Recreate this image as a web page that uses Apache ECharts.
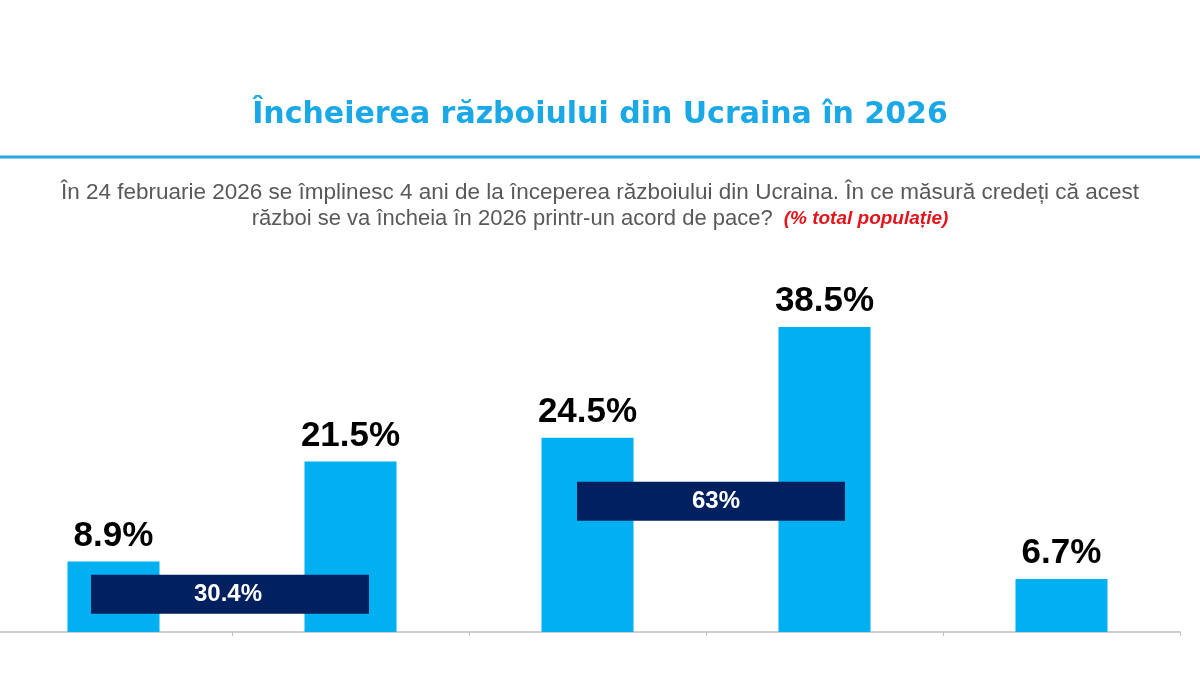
<!DOCTYPE html>
<html>
<head>
<meta charset="utf-8">
<script src="https://cdn.jsdelivr.net/npm/echarts@6/dist/echarts.min.js"></script>
<style>
  html, body { margin: 0; padding: 0; background: #fff; overflow: hidden; }
  /* graficul e impins putin spre stanga, ca in original */
  #main { position: absolute; left: -5px; top: 0; width: 1210px; height: 674px; }
</style>
</head>
<body>
<div id="main"></div>
<script>
// date sondaj - 5 variante de raspuns (etichetele nu apar pe grafic)
const categories = ['A', 'B', 'C', 'D', 'E']
const values = [8.9, 21.5, 24.5, 38.5, 6.7]

// totaluri grupate (1+2 si 3+4), asezate intre bare
const groupLabels = ['30.4%', '63%']
const groupSlots = [1, 3]        // granita dintre categorii
const groupLevels = [4.75, 16.5] // nivelul vertical al casetei

const chart = echarts.init(document.getElementById('main'))

const font = 'Liberation Sans, Arial, sans-serif'
const boxSizes = [[278, 39], [268, 39]]
const boxOffsets = [[-2, 0], [5, 0]]

const option = {
  backgroundColor: '#ffffff',
  animation: false,
  title: [
    {
      text: 'Încheierea războiului din Ucraina în 2026',
      left: 'center',
      top: 95,
      textStyle: { color: '#1aa9e6', fontSize: 30, fontWeight: 'bold', fontFamily: 'DejaVu Sans, sans-serif' }
    },
    {
      text: 'În 24 februarie 2026 se împlinesc 4 ani de la începerea războiului din Ucraina. În ce măsură credeți că acest',
      left: 'center',
      top: 176,
      textStyle: { color: '#595959', fontSize: 22.5, fontWeight: 'normal', fontFamily: font }
    },
    {
      text: '{a|război se va încheia în 2026 printr-un acord de pace?}{b|(% total populație)}',
      left: 'center',
      top: 203,
      textStyle: {
        rich: {
          a: { color: '#595959', fontSize: 22, fontWeight: 'normal', fontFamily: font },
          b: { color: '#e3141b', fontSize: 19, fontStyle: 'italic', fontWeight: 'bold', fontFamily: font, padding: [0, 0, 0, 11] }
        }
      }
    }
  ],
  graphic: [
    {
      type: 'line',
      shape: { x1: 0, y1: 157, x2: 1210, y2: 157 },
      style: { stroke: '#2aa8df', lineWidth: 3 }
    }
  ],
  grid: { left: 0, right: 25, top: 315, bottom: 42 },
  xAxis: [
    {
      type: 'category',
      data: categories,
      axisLine: { lineStyle: { color: '#bfbfbf', width: 1.5 } },
      axisTick: { show: true, length: 4, lineStyle: { color: '#bfbfbf' } },
      axisLabel: { show: false }
    },
    {
      type: 'value',
      min: 0,
      max: 5,
      show: false
    }
  ],
  yAxis: {
    type: 'value',
    min: 0,
    max: 40,
    show: false,
    splitLine: { show: false }
  },
  series: [
    {
      type: 'bar',
      data: values,
      barWidth: 92,
      itemStyle: { color: '#00b0f0' },
      label: {
        show: true,
        position: 'top',
        distance: 8,
        formatter: p => p.value.toFixed(1) + '%',
        color: '#000',
        fontSize: 35,
        fontWeight: 'bold',
        fontFamily: font
      }
    },
    {
      type: 'scatter',
      xAxisIndex: 1,
      symbol: 'rect',
      itemStyle: { color: '#002060', opacity: 1 },
      data: groupSlots.map((s, i) => ({
        value: [s, groupLevels[i]],
        name: groupLabels[i],
        symbolSize: boxSizes[i],
        symbolOffset: boxOffsets[i],
        label: { offset: boxOffsets[i] }
      })),
      label: {
        show: true,
        position: 'inside',
        formatter: p => p.name,
        color: '#fff',
        fontSize: 24,
        fontWeight: 'bold',
        fontFamily: font
      },
      z: 5
    }
  ]
}

chart.setOption(option)
</script>
</body>
</html>
